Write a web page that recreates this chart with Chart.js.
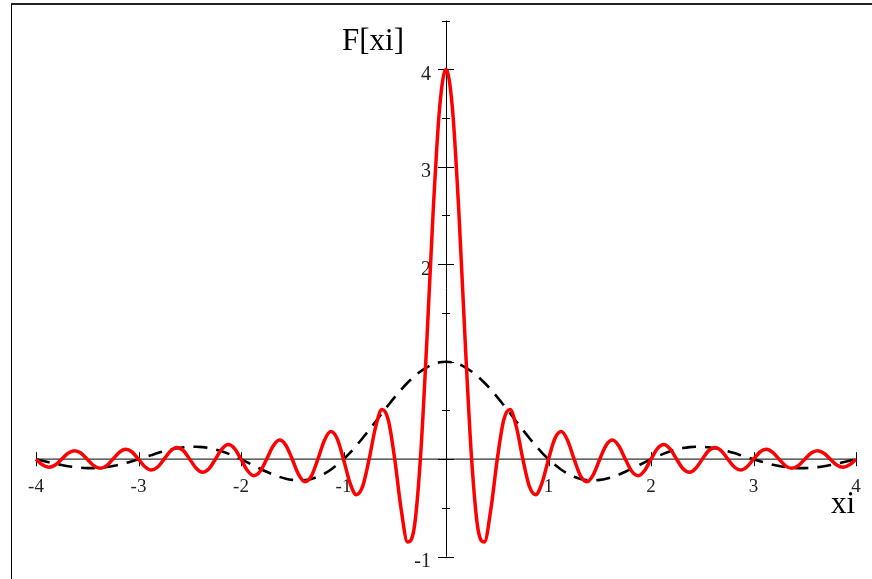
<!DOCTYPE html>
<html>
<head>
<meta charset="utf-8">
<script src="https://cdn.jsdelivr.net/npm/chart.js@4.4.1/dist/chart.umd.min.js"></script>
<style>
  body { margin: 0; background: #fff; }
  #wrap { position: relative; width: 872px; height: 579px; overflow: hidden; }
  #frame { position: absolute; left: 11px; top: 3px; right: 0; bottom: 0;
           border-top: 2px solid #222; border-left: 1px solid #000; }
  canvas { position: absolute; left: 0; top: 0; }
</style>
</head>
<body>
<div id="wrap">
  <div id="frame"></div>
  <canvas id="myChart" width="872" height="579"></canvas>
</div>
<script>
/**
 * Two curves over xi from -4 to 4, sampled every 1/16.
 */

const xiValues = [
  -4, -3.9375, -3.875, -3.8125, -3.75, -3.6875, -3.625, -3.5625,
  -3.5, -3.4375, -3.375, -3.3125, -3.25, -3.1875, -3.125, -3.0625,
  -3, -2.9375, -2.875, -2.8125, -2.75, -2.6875, -2.625, -2.5625,
  -2.5, -2.4375, -2.375, -2.3125, -2.25, -2.1875, -2.125, -2.0625,
  -2, -1.9375, -1.875, -1.8125, -1.75, -1.6875, -1.625, -1.5625,
  -1.5, -1.4375, -1.375, -1.3125, -1.25, -1.1875, -1.125, -1.0625,
  -1, -0.9375, -0.875, -0.8125, -0.75, -0.6875, -0.625, -0.5625,
  -0.5, -0.4375, -0.375, -0.3125, -0.25, -0.1875, -0.125, -0.0625,
  0,
  0.0625, 0.125, 0.1875, 0.25, 0.3125, 0.375, 0.4375, 0.5,
  0.5625, 0.625, 0.6875, 0.75, 0.8125, 0.875, 0.9375, 1,
  1.0625, 1.125, 1.1875, 1.25, 1.3125, 1.375, 1.4375, 1.5,
  1.5625, 1.625, 1.6875, 1.75, 1.8125, 1.875, 1.9375, 2,
  2.0625, 2.125, 2.1875, 2.25, 2.3125, 2.375, 2.4375, 2.5,
  2.5625, 2.625, 2.6875, 2.75, 2.8125, 2.875, 2.9375, 3,
  3.0625, 3.125, 3.1875, 3.25, 3.3125, 3.375, 3.4375, 3.5,
  3.5625, 3.625, 3.6875, 3.75, 3.8125, 3.875, 3.9375, 4,
];

// red solid curve
const redValues = [
  0, -0.057, -0.082, -0.059, 0, 0.061, 0.088, 0.063,
  0, -0.066, -0.094, -0.068, 0, 0.071, 0.102, 0.074,
  0, -0.077, -0.111, -0.08, 0, 0.084, 0.121, 0.088,
  0, -0.092, -0.134, -0.097, 0, 0.103, 0.15, 0.109,
  0, -0.116, -0.17, -0.124, 0, 0.133, 0.196, 0.144,
  0, -0.157, -0.231, -0.171, 0, 0.19, 0.283, 0.212,
  0, -0.24, -0.364, -0.277, 0, 0.327, 0.509, 0.4,
  0, -0.514, -0.849, -0.72, 0, 1.2, 2.546, 3.601,
  4,
  3.601, 2.546, 1.2, 0, -0.72, -0.849, -0.514, 0,
  0.4, 0.509, 0.327, 0, -0.277, -0.364, -0.24, 0,
  0.212, 0.283, 0.19, 0, -0.171, -0.231, -0.157, 0,
  0.144, 0.196, 0.133, 0, -0.124, -0.17, -0.116, 0,
  0.109, 0.15, 0.103, 0, -0.097, -0.134, -0.092, 0,
  0.088, 0.121, 0.084, 0, -0.08, -0.111, -0.077, 0,
  0.074, 0.102, 0.071, 0, -0.068, -0.094, -0.066, 0,
  0.063, 0.088, 0.061, 0, -0.059, -0.082, -0.057, 0,
];

// black dashed curve
const dashedValues = [
  0, -0.016, -0.031, -0.046, -0.06, -0.072, -0.081, -0.088,
  -0.091, -0.091, -0.087, -0.08, -0.069, -0.056, -0.039, -0.02,
  0, 0.021, 0.042, 0.063, 0.082, 0.099, 0.112, 0.122,
  0.127, 0.128, 0.124, 0.114, 0.1, 0.081, 0.057, 0.03,
  0, -0.032, -0.065, -0.098, -0.129, -0.157, -0.181, -0.2,
  -0.212, -0.217, -0.214, -0.202, -0.18, -0.149, -0.108, -0.058,
  0, 0.066, 0.139, 0.218, 0.3, 0.385, 0.471, 0.555,
  0.637, 0.714, 0.784, 0.847, 0.9, 0.943, 0.975, 0.994,
  1,
  0.994, 0.975, 0.943, 0.9, 0.847, 0.784, 0.714, 0.637,
  0.555, 0.471, 0.385, 0.3, 0.218, 0.139, 0.066, 0,
  -0.058, -0.108, -0.149, -0.18, -0.202, -0.214, -0.217, -0.212,
  -0.2, -0.181, -0.157, -0.129, -0.098, -0.065, -0.032, 0,
  0.03, 0.057, 0.081, 0.1, 0.114, 0.124, 0.128, 0.127,
  0.122, 0.112, 0.099, 0.082, 0.063, 0.042, 0.021, 0,
  -0.02, -0.039, -0.056, -0.069, -0.08, -0.087, -0.091, -0.091,
  -0.088, -0.081, -0.072, -0.06, -0.046, -0.031, -0.016, 0,
];

const xTickValues = [-4, -3, -2, -1, 1, 2, 3, 4];
const xTickLabels = ["-4", "-3", "-2", "-1", "1", "2", "3", "4"];
const yMajorTicks = [-1, 1, 2, 3, 4];
const yMinorTicks = [-0.5, 0.5, 1.5, 2.5, 3.5, 4.5];
const yTickValues = [4, 3, 2, -1];
const yTickLabels = ["4", "3", "2", "-1"];
const xAxisTitle = "xi";
const yAxisTitle = "F[xi]";

const serif = '"Liberation Serif", "DejaVu Serif", serif';

function chart() {
  const ctx = document.getElementById("myChart");
  new Chart(ctx, {
    type: "scatter",
    data: returnCurveData(),
    options: returnOptions(),
    plugins: [axesPlugin],
  });
}

function toPoints(values) {
  let points = [];
  for (let i = 0; i < xiValues.length; i++) {
    points.push({ x: xiValues[i], y: values[i] });
  }
  return points;
}

function returnCurveData() {
  let curveData = {
    datasets: [
      {
        label: "red",
        data: toPoints(redValues),
        showLine: true,
        borderColor: "#ff0000",
        borderWidth: 3.5,
        pointRadius: 0,
        cubicInterpolationMode: "monotone",
      },
      {
        label: "dashed",
        data: toPoints(dashedValues),
        showLine: true,
        borderColor: "#000000",
        borderWidth: 2.6,
        borderDash: [14, 9],
        pointRadius: 0,
        cubicInterpolationMode: "monotone",
      },
    ],
  };
  return curveData;
}

function returnOptions() {
  return {
    responsive: false,
    animation: false,
    clip: false,
    layout: { padding: { left: 36, right: 16, top: 20.5, bottom: 22.3 } },
    scales: {
      x: { type: "linear", min: -4, max: 4, display: false },
      y: { type: "linear", min: -1, max: 4.5, display: false },
    },
    plugins: {
      legend: { display: false },
      tooltip: { enabled: false },
    },
  };
}

// axes through the origin, drawn under the curves
const axesPlugin = {
  id: "axesPlugin",
  beforeDatasetsDraw(chart) {
    const c = chart.ctx;
    const xs = chart.scales.x;
    const ys = chart.scales.y;
    const x0 = xs.getPixelForValue(0);
    const y0 = ys.getPixelForValue(0);
    c.save();

    // x axis
    c.lineWidth = 1.3;
    c.strokeStyle = "#333";
    c.beginPath();
    c.moveTo(xs.getPixelForValue(-4), y0);
    c.lineTo(xs.getPixelForValue(4), y0);
    c.stroke();
    c.lineWidth = 1;
    c.strokeStyle = "#000";
    c.beginPath();
    xTickValues.forEach((v) => {
      const px = Math.round(xs.getPixelForValue(v)) + 0.5;
      c.moveTo(px, y0 - 7);
      c.lineTo(px, y0 + 7);
    });
    c.stroke();

    // y axis
    c.beginPath();
    c.moveTo(Math.round(x0) + 0.5, ys.getPixelForValue(4.5));
    c.lineTo(Math.round(x0) + 0.5, ys.getPixelForValue(-1));
    yMajorTicks.forEach((v) => {
      const py = Math.round(ys.getPixelForValue(v)) + 0.5;
      c.moveTo(x0 - 8, py);
      c.lineTo(x0 + 8, py);
    });
    c.moveTo(x0 - 8, Math.round(y0) + 0.5);
    c.lineTo(x0 + 8, Math.round(y0) + 0.5);
    yMinorTicks.forEach((v) => {
      const py = Math.round(ys.getPixelForValue(v)) + 0.5;
      c.moveTo(x0 - 4, py);
      c.lineTo(x0 + 4, py);
    });
    c.stroke();

    // tick labels
    c.fillStyle = "#222";
    c.font = "19px " + serif;
    c.textAlign = "center";
    c.textBaseline = "alphabetic";
    xTickValues.forEach((v, i) => {
      c.fillText(xTickLabels[i], xs.getPixelForValue(v), y0 + 33);
    });
    c.font = "20px " + serif;
    c.textAlign = "right";
    yTickValues.forEach((v, i) => {
      c.fillText(yTickLabels[i], x0 - 15, ys.getPixelForValue(v) + 10.5);
    });

    // axis titles
    c.fillStyle = "#000";
    c.font = "31px " + serif;
    c.textAlign = "left";
    c.fillText(yAxisTitle, 342, 50);
    c.fillText(xAxisTitle, 831, 513);
    c.restore();
  },
};

chart();
</script>
</body>
</html>
